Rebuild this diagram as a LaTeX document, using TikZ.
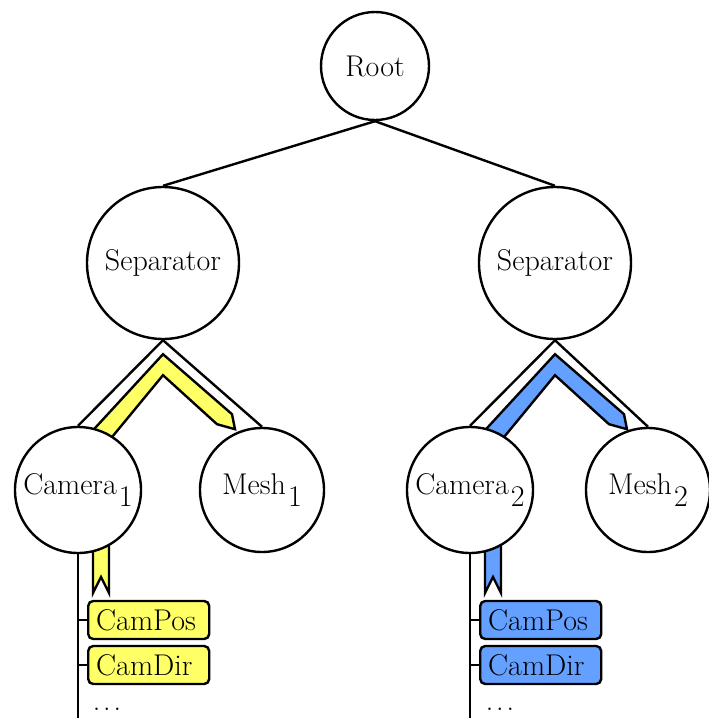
\documentclass[tikz,border=0pt]{standalone}
\usetikzlibrary{calc, backgrounds}
\definecolor{walkyellow}{RGB}{255,255,102}
\definecolor{walkblue}{RGB}{100,160,255}
\newcommand{\idx}[1]{\kern1pt\raisebox{-0.9ex}{#1}}
\newcommand{\walk}[3]{%
  \begin{scope}[shift={(#1.south)}, line width=1.2pt]
    \filldraw[fill=#3] (-81,102) -- (0,14) -- (69,74) -- (72,89) -- (54,84)
      -- (0,35) -- (-61,109) -- cycle;
  \end{scope}
  \begin{scope}[shift={(#2.center)}, line width=1.2pt]
    \filldraw[fill=#3] (15,40) -- (15,103) -- (23,87) -- (31,103) -- (31,40) -- cycle;
  \end{scope}}

\begin{document}
\begin{tikzpicture}[x=0.5pt, y=-0.5pt, line width=1.2pt,
  font=\fontsize{15}{18}\selectfont,
  vertex/.style={circle, draw, fill=white, inner sep=1pt},
  field/.style={draw, rounded corners=2.5pt, anchor=west, text width=52.5pt,
                inner xsep=4pt, minimum height=19pt, align=left}]
\useasboundingbox (0,0) rectangle (708,718);
\coordinate (floor) at (0,718);

\node[vertex, minimum size=54pt] (root)  at (375,66)  {Root};
\node[vertex, minimum size=76pt] (sepA)  at (163,263) {Separator};
\node[vertex, minimum size=76pt] (sepB)  at (555,263) {Separator};
\node[vertex, minimum size=63pt] (camA)  at (78,490)  {Camera\idx{1}};
\node[vertex, minimum size=62pt] (meshA) at (262,490) {Mesh\idx{1}};
\node[vertex, minimum size=63pt] (camB)  at (470,490) {Camera\idx{2}};
\node[vertex, minimum size=62pt] (meshB) at (648,490) {Mesh\idx{2}};

\node[field, fill=walkyellow] (posA) at (87,620)  {CamPos};
\node[field, fill=walkyellow] (dirA) at (87,665)  {CamDir};
\node (moreA) at (107,709) {.\hspace{1.4pt}.\hspace{1.4pt}.};
\node[field, fill=walkblue] (posB) at (479,620)  {CamPos};
\node[field, fill=walkblue] (dirB) at (479,665)  {CamDir};
\node (moreB) at (500,709) {.\hspace{1.4pt}.\hspace{1.4pt}.};

\draw (root.south) -- (sepA.north);
\draw (root.south) -- (sepB.north);
\draw (sepA.south) -- (camA.north);
\draw (sepA.south) -- (meshA.north);
\draw (sepB.south) -- (camB.north);
\draw (sepB.south) -- (meshB.north);

\draw (camA.south) -- (camA.south |- floor);
\draw (posA.west -| camA) -- (posA.west);
\draw (dirA.west -| camA) -- (dirA.west);
\draw (camB.south) -- (camB.south |- floor);
\draw (posB.west -| camB) -- (posB.west);
\draw (dirB.west -| camB) -- (dirB.west);

\begin{pgfonlayer}{background}
\walk{sepA}{camA}{walkyellow}
\walk{sepB}{camB}{walkblue}
\end{pgfonlayer}
\end{tikzpicture}
\end{document}
